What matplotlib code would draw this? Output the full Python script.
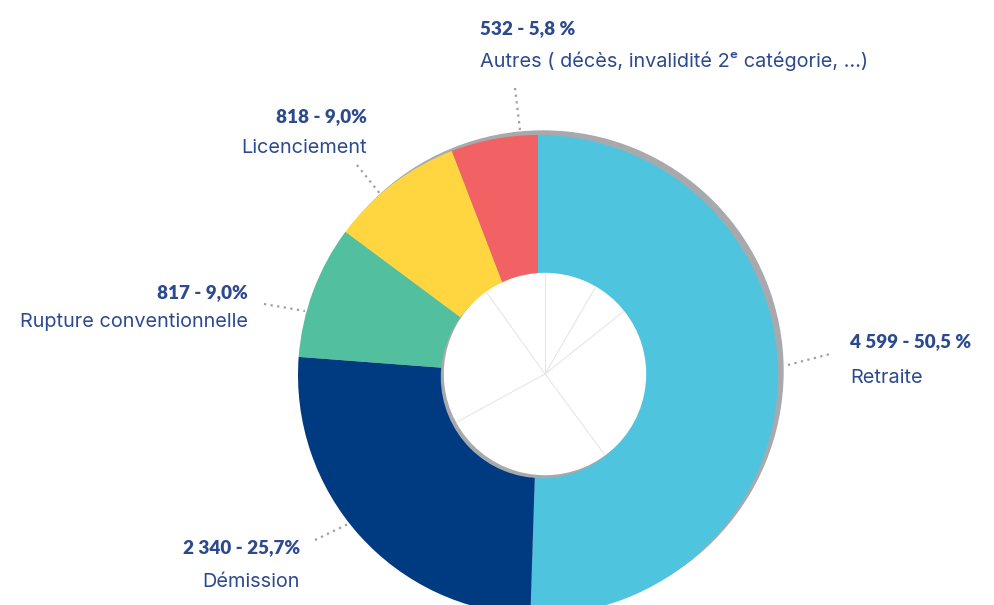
import matplotlib.pyplot as plt
from matplotlib.patches import Circle
import numpy as np

# ================== Data ==================
categories = ["Retraite", "Démission", "Rupture conventionnelle", "Licenciement",
              "Autres ( décès, invalidité 2ᵉ catégorie, …)"]
counts = [4599, 2340, 817, 818, 532]
value_labels = ["4 599 - 50,5 %", "2 340 - 25,7%", "817 - 9,0%", "818 - 9,0%", "532 - 5,8 %"]
colors = ["#4FC4DF", "#003A80", "#52BF9E", "#FFD540", "#F26163"]

# faint separator lines visible inside the hole (degrees)
hole_line_angles = [90, 59.8, 38.5, -53.5, 208.6, 125.6]

# label placement (pixel coords, y measured upward):
# x, value baseline, name baseline, alignment, leader line
label_pos = {
    "Retraite": (850, 258, 222, "left", (788, 240, 830, 251)),
    "Démission": (300, 52, 18, "right", (315, 65, 350, 82)),
    "Rupture conventionnelle": (248, 307, 278, "right", (264, 301, 305, 294)),
    "Licenciement": (367, 483, 452, "right", (357, 440, 381, 410)),
    categories[4]: (480, 571, 538, "left", (515, 517, 520, 475)),
}

TEXT_COLOR = "#2C4A8E"
SHADOW = "#A8A9AD"
plt.rcParams['font.family'] = ['Inter', 'DejaVu Sans']

# ================== Figure ==================
fig = plt.figure(figsize=(9.94, 6.05), dpi=100)
ax = fig.add_axes([0, 0, 1, 1])

cx, cy, R = 538, 230, 240
hx, hy, r = 545, 231, 100.5

# outer shadow
ax.add_patch(Circle((cx + 5, cy + 4), R, color=SHADOW, zorder=1))

ax.pie(counts, colors=colors, startangle=90, counterclock=False,
       radius=R, center=(cx, cy), wedgeprops=dict(linewidth=0, zorder=2))

# inner hole with shadow
ax.add_patch(Circle((hx - 3, hy - 3), r, color=SHADOW, zorder=3))
ax.add_patch(Circle((hx, hy), r, color="white", zorder=4))
for a in hole_line_angles:
    t = np.radians(a)
    ax.plot([hx, hx + r * np.cos(t)], [hy, hy + r * np.sin(t)],
            color="#E4E7EA", lw=0.8, zorder=5)

# labels and leaders
for cat, val in zip(categories, value_labels):
    x, yv, yn, ha, (x0, y0, x1, y1) = label_pos[cat]
    ax.text(x, yv, val, ha=ha, va="baseline", fontsize=13.6, fontweight="heavy",
            family=["Lato", "DejaVu Sans"], color=TEXT_COLOR, zorder=6)
    ax.text(x, yn, cat, ha=ha, va="baseline", fontsize=14.3,
            color=TEXT_COLOR, zorder=6)
    ax.plot([x0, x1], [y0, y1], color="#A0A0A0", lw=1.6,
            linestyle=(0, (1, 2)), zorder=6)

ax.set_xlim(0, 994)
ax.set_ylim(0, 605)
ax.set_aspect("auto")
ax.axis("off")

fig.savefig("out.png", dpi=100, facecolor="white")
